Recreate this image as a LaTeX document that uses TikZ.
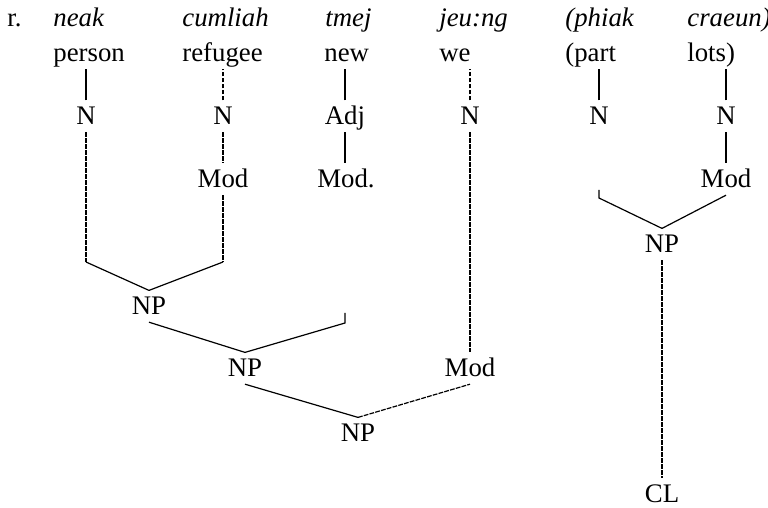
\documentclass[tikz,border=0pt]{standalone}
\usepackage{fontspec}
\setmainfont{Liberation Serif}
\begin{document}
\begin{tikzpicture}[x=0.5pt,y=-0.5pt,
  lbl/.style={font=\fontsize{13.4}{15}\selectfont, inner xsep=0pt, inner ysep=3.4pt,
              text height=8.7pt, text depth=0pt, anchor=base},
  word/.style={lbl, anchor=base west, font=\fontsize{13.4}{15}\selectfont\itshape},
  gloss/.style={lbl, anchor=base west},
  cat/.style={lbl},
  edge/.style={line width=0.6pt},
  dedge/.style={edge, dash pattern=on 2.4pt off 0.6pt}]
\useasboundingbox (0,0) rectangle (768,508);

% example number and Khmer words
\node[gloss] (ex) at (7,27) {r.};
\node[word] (w1) at (53,27)  {neak};
\node[word] (w2) at (182,27) {cumliah};
\node[word] (w3) at (325,27) {tmej};
\node[word] (w4) at (439,27) {jeu:ng};
\node[word] (w5) at (565,27) {(phiak};
\node[word] (w6) at (687,27) {craeun)};

% glosses
\node[gloss] (g1) at (53,62)  {person};
\node[gloss] (g2) at (182,62) {refugee};
\node[gloss] (g3) at (324,62) {new};
\node[gloss] (g4) at (439,62) {we};
\node[gloss] (g5) at (565,62) {(part};
\node[gloss] (g6) at (687,62) {lots)};

% lexical categories
\node[cat] (n1) at (86,125)  {N};
\node[cat] (n2) at (223,125) {N};
\node[cat] (a3) at (345,125) {Adj};
\node[cat] (n4) at (470,125) {N};
\node[cat] (n5) at (599,125) {N};
\node[cat] (n6) at (726,125) {N};

% modifiers
\node[cat] (m2) at (223,188) {Mod};
\node[cat] (m3) at (346,188) {Mod.};
\node[cat] (m6) at (726,188) {Mod};
\node[cat] (m4) at (470,377) {Mod};

% phrases
\node[cat] (np1) at (149,315) {NP};
\node[cat] (np2) at (245,377) {NP};
\node[cat] (np3) at (358,442) {NP};
\node[cat] (np4) at (662,253) {NP};
\node[cat] (cl)  at (662,503) {CL};

% branch corners
\coordinate (c1) at (86,262);
\coordinate (c2) at (223,262);
\coordinate (c3) at (345,323);
\coordinate (c3t) at (345,313);
\coordinate (c5) at (599,198);
\coordinate (c5t) at (599,190);

% word-to-category links
\draw[edge]  (n1.north) -- (n1.north |- g1.south);
\draw[dedge] (n2.north) -- (n2.north |- g2.south);
\draw[edge]  (a3.north) -- (a3.north |- g3.south);
\draw[dedge] (n4.north) -- (n4.north |- g4.south);
\draw[edge]  (n5.north) -- (n5.north |- g5.south);
\draw[edge]  (n6.north) -- (n6.north |- g6.south);

% category-to-modifier links
\draw[dedge] (n2.south) -- (m2.north);
\draw[edge]  (a3.south) -- (a3.south |- m3.north);
\draw[edge]  (n6.south) -- (m6.north);
\draw[dedge] (n4.south) -- (m4.north);

% first NP
\draw[dedge] (n1.south) -- (c1);
\draw[edge]  (c1) -- (np1.north);
\draw[dedge] (m2.south) -- (c2);
\draw[edge]  (c2) -- (np1.north);

% second NP
\draw[edge] (np1.south) -- (np2.north) -- (c3) -- (c3t);

% third NP
\draw[edge]  (np2.south) -- (np3.north);
\draw[dedge] (np3.north) -- (m4.south);

% right-hand NP and classifier
\draw[edge]  (c5t) -- (c5) -- (np4.north);
\draw[edge]  (np4.north) -- (m6.south);
\draw[dedge] (np4.south) -- (cl.north);
\end{tikzpicture}
\end{document}
